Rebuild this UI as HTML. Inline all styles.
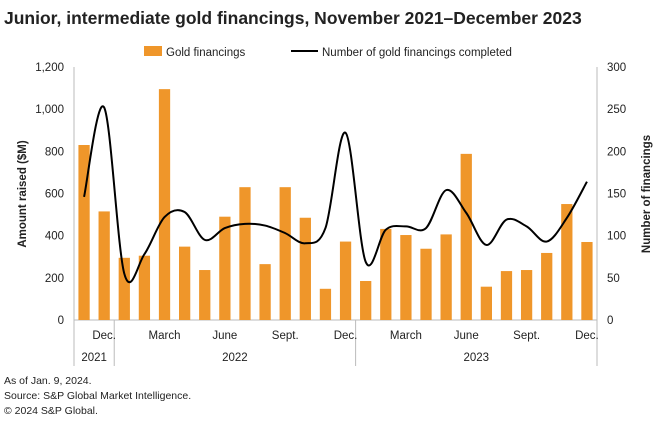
<!DOCTYPE html>
<html><head><meta charset="utf-8"><style>
body{margin:0;background:#fff;font-family:"Liberation Sans",sans-serif;}
svg text{font-family:"Liberation Sans",sans-serif;fill:#222;}
</style></head><body>
<svg width="660" height="429">
<text x="4" y="24" font-size="17.5" font-weight="bold">Junior, intermediate gold financings, November 2021–December 2023</text>
<g>
<rect x="144" y="46" width="18" height="10" fill="#ef962a"/>
<text x="166" y="56" font-size="11.5">Gold financings</text>
<line x1="291" y1="51" x2="318" y2="51" stroke="#000" stroke-width="2"/>
<text x="322" y="56" font-size="11.5">Number of gold financings completed</text>
</g>
<g id="axes"></g>
<g id="bars"></g>
<path id="line" fill="none" stroke="#000" stroke-width="2"/>
<text transform="translate(26,194) rotate(-90)" text-anchor="middle" font-size="11.5" font-weight="bold">Amount raised ($M)</text>
<text transform="translate(650,194) rotate(-90)" text-anchor="middle" font-size="11.5" font-weight="bold">Number of financings</text>
<g font-size="10.5">
<text x="4" y="384">As of Jan. 9, 2024.</text>
<text x="4" y="399">Source: S&amp;P Global Market Intelligence.</text>
<text x="4" y="414">© 2024 S&amp;P Global.</text>
</g>
</svg>
<script>
const amounts=[830,515,295,305,1095,348,237,490,630,265,630,485,148,372,185,432,403,338,406,788,158,232,237,318,550,370];
const counts=[146,252,55,78,122,128,95,109,114,112,103,91,109,222,69,107,111,109,154,127,89,119,111,93,121,164];
const leftTicks=[0,200,400,600,800,1000,1200];
const rightTicks=[0,50,100,150,200,250,300];
const monthLabels=[[1,"Dec."],[4,"March"],[7,"June"],[10,"Sept."],[13,"Dec."],[16,"March"],[19,"June"],[22,"Sept."],[25,"Dec."]];
const yearLabels=[[0,2,"2021"],[2,14,"2022"],[14,26,"2023"]];
const X0=74,X1=597,Y0=320,Y1=67,N=amounts.length,slot=(X1-X0)/N;
const NS="http://www.w3.org/2000/svg";
const xc=i=>X0+slot*(i+0.5);
const yL=v=>Y0-v/1200*(Y0-Y1);
const yR=v=>Y0-v/300*(Y0-Y1);
function mk(t,a,p){const e=document.createElementNS(NS,t);for(const k in a)e.setAttribute(k,a[k]);p.appendChild(e);return e;}
const ax=document.getElementById('axes'),bg=document.getElementById('bars');
leftTicks.forEach(v=>{const t=mk('text',{x:64,y:yL(v)+4,'text-anchor':'end','font-size':11.5},ax);t.textContent=v.toLocaleString('en-US');

});
rightTicks.forEach(v=>{const t=mk('text',{x:607,y:yR(v)+4,'font-size':11.5},ax);t.textContent=v;

});
mk('line',{x1:X0,y1:Y1,x2:X0,y2:366,stroke:'#bbb'},ax);
mk('line',{x1:X1,y1:Y1,x2:X1,y2:366,stroke:'#bbb'},ax);
mk('line',{x1:X0,y1:Y0,x2:X1,y2:Y0,stroke:'#bbb'},ax);
[2,14].forEach(i=>mk('line',{x1:X0+slot*i,y1:Y0,x2:X0+slot*i,y2:366,stroke:'#bbb'},ax));
monthLabels.forEach(([i,s])=>{const t=mk('text',{x:xc(i),y:339,'text-anchor':'middle','font-size':11.5},ax);t.textContent=s;

});
yearLabels.forEach(([a,b,s])=>{const t=mk('text',{x:X0+slot*(a+b)/2,y:361,'text-anchor':'middle','font-size':11.5},ax);t.textContent=s;

});
const bw=slot*0.56;
amounts.forEach((v,i)=>{const r=mk('rect',{x:xc(i)-bw/2,y:yL(v),width:bw,height:Y0-yL(v),fill:'#ef962a'},bg);

});
const pts=counts.map((v,i)=>[xc(i),yR(v)]);
let d=`M${pts[0][0]},${pts[0][1]}`;
for(let i=0;i<pts.length-1;i++){const p0=pts[Math.max(0,i-1)],p1=pts[i],p2=pts[i+1],p3=pts[Math.min(pts.length-1,i+2)];
d+=` C${p1[0]+(p2[0]-p0[0])/6},${p1[1]+(p2[1]-p0[1])/6} ${p2[0]-(p3[0]-p1[0])/6},${p2[1]-(p3[1]-p1[1])/6} ${p2[0]},${p2[1]}`;}
document.getElementById('line').setAttribute('d',d);
</script>
</body></html>
